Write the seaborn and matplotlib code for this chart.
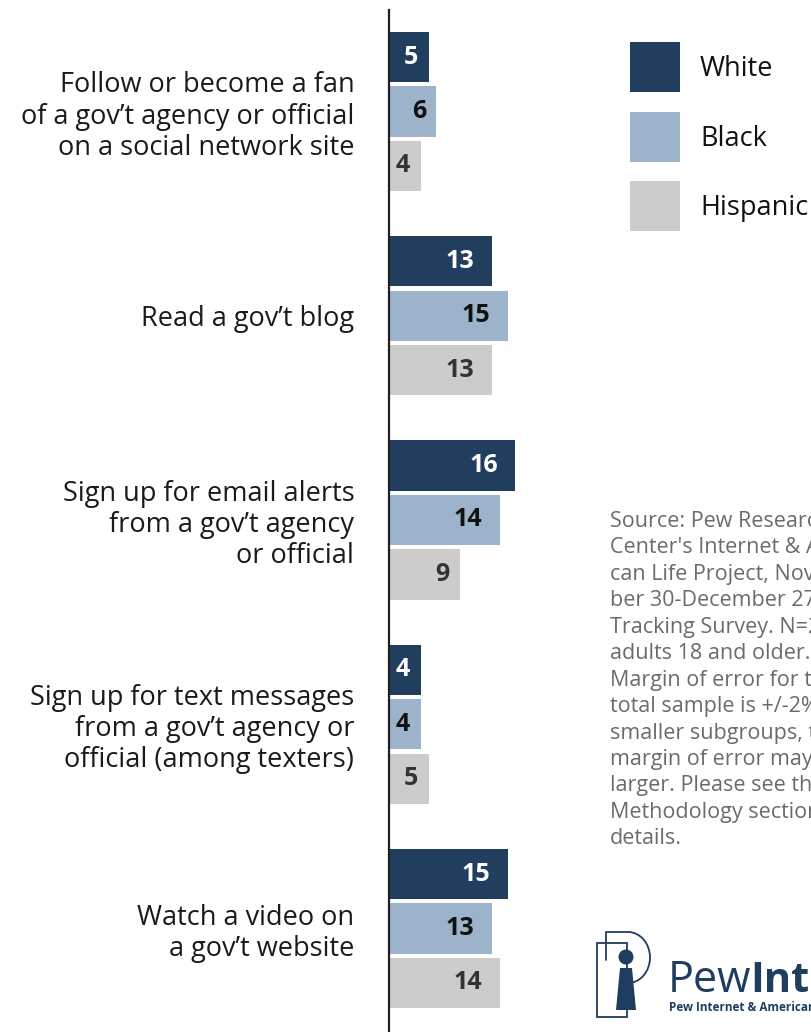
import matplotlib
matplotlib.use('Agg')
import matplotlib.pyplot as plt
import matplotlib.transforms as mtransforms
from matplotlib.patches import Rectangle, Circle, Polygon, Arc
import pandas as pd
import seaborn as sns

# DATA
activities = [
    'Follow or become a fan\nof a gov\u2019t agency or official\non a social network site',
    'Read a gov\u2019t blog',
    'Sign up for email alerts\nfrom a gov\u2019t agency\nor official',
    'Sign up for text messages\nfrom a gov\u2019t agency or\nofficial (among texters)',
    'Watch a video on\na gov\u2019t website',
]
groups = ['White', 'Black', 'Hispanic']
white = [5, 13, 16, 4, 15]
black = [6, 15, 14, 4, 13]
hispanic = [4, 13, 9, 5, 14]

colors = ['#213e5e', '#9cb3cb', '#cdcccb']
label_colors = ['#ffffff', '#111111', '#333333']

source_lines = [
    'Source: Pew Research',
    'Center\'s Internet & Ameri-',
    'can Life Project, Novem-',
    'ber 30-December 27, 2010',
    'Tracking Survey. N=2,257',
    'adults 18 and older.',
    'Margin of error for the',
    'total sample is +/-2%. For',
    'smaller subgroups, the',
    'margin of error may be',
    'larger. Please see the',
    'Methodology section for',
    'details.',
]

df = pd.DataFrame({
    'activity': activities * 3,
    'group': [g for g in groups for _ in activities],
    'pct': white + black + hispanic,
})

sns.set_theme(style='white')
plt.rcParams['font.family'] = ['Open Sans', 'DejaVu Sans']

W, H = 811, 1032
fig = plt.figure(figsize=(W / 100, H / 100), dpi=100)
# pixel coords (from top-left) -> figure
px = mtransforms.Affine2D().scale(1 / W, -1 / H).translate(0, 1) + fig.transFigure

PX_PER_UNIT = 7.9
ax = fig.add_axes([389 / W, 0, (W - 389) / W, 1022 / H])
sns.barplot(data=df, y='activity', x='pct', hue='group', hue_order=groups,
            palette=colors, orient='h', width=0.8, saturation=1,
            legend=False, ax=ax)
ax.set_xlim(0, (W - 389) / PX_PER_UNIT)
ax.set_ylim((H - 111.5) / 204.25, (10 - 111.5) / 204.25)

# small gap between bars
for p in ax.patches:
    h = p.get_height()
    nh = h * 50 / 54
    p.set_y(p.get_y() + (h - nh) / 2)
    p.set_height(nh)
    p.set_linewidth(0)

for cont, tc in zip(ax.containers, label_colors):
    for bar in cont:
        w = bar.get_width()
        yc = bar.get_y() + bar.get_height() / 2
        pad = 2.2 if w >= 10 else 1.3
        ax.text(w - pad, yc, f'{w:.0f}', ha='right', va='center',
                fontsize=18, fontweight='bold', color=tc)

for s in ['top', 'right', 'bottom']:
    ax.spines[s].set_visible(False)
ax.spines['left'].set_color('#231f20')
ax.spines['left'].set_linewidth(1.6)
ax.set_xticks([])
ax.set_xlabel('')
ax.set_ylabel('')
ax.tick_params(axis='y', length=0, pad=25)
plt.setp(ax.get_yticklabels(), fontsize=19.5, color='#1a1a1a', linespacing=1.15)

# legend
for i, (g, c) in enumerate(zip(groups, colors)):
    top = 42 + i * 69.5
    fig.add_artist(Rectangle((630, top + 50), 50, -50, transform=px,
                             facecolor=c, edgecolor='none'))
    fig.text(700, top + 27, g, transform=px, ha='left', va='center',
             fontsize=19.5, color='#111111')

# source note
fig.text(610, 511, '\n'.join(source_lines), transform=px, ha='left', va='top',
         fontsize=15.5, color='#6b6b6b', linespacing=1.34)

# logo
logo = '#1f3d5f'
fig.add_artist(Rectangle((597, 943), 30, 74, transform=px, fill=False,
                         edgecolor=logo, linewidth=1.3))
fig.add_artist(plt.Line2D([606, 606, 628], [960, 932, 932], transform=px,
                          color=logo, linewidth=1.3))
fig.add_artist(Arc((628, 957.5), 44, 51, theta1=-90, theta2=90, transform=px,
                   edgecolor=logo, linewidth=1.3))
fig.add_artist(plt.Line2D([628, 632], [983, 983], transform=px,
                          color=logo, linewidth=1.3))
fig.add_artist(Circle((626, 957), 7.5, transform=px, facecolor=logo,
                      edgecolor='none'))
fig.add_artist(Polygon([(620, 968), (632, 968), (636, 1010), (616, 1010)],
                       transform=px, facecolor=logo, edgecolor='none'))
fig.text(668, 992, 'Pew', transform=px, ha='left', va='baseline',
         fontsize=31, color=logo)
fig.text(750, 992, 'Internet', transform=px, ha='left', va='baseline',
         fontsize=30, fontweight='bold', color=logo)
fig.text(669, 1011, 'Pew Internet & American Life Project', transform=px,
         ha='left', va='baseline', fontsize=8.5, fontweight='bold',
         color=logo)

fig.savefig('out.png', dpi=100)
